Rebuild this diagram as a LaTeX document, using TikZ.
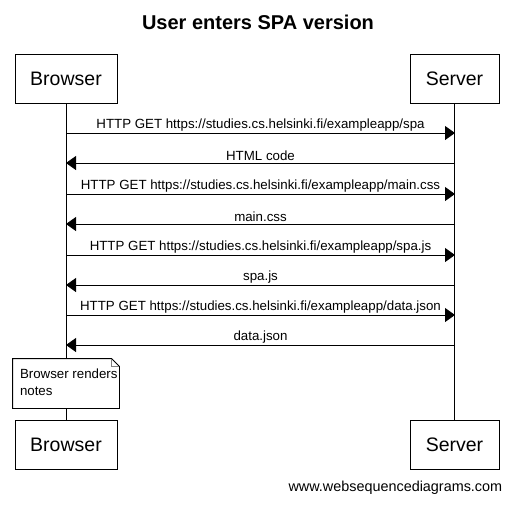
\documentclass[tikz,border=0pt]{standalone}
\usepackage{fontspec}
\setmainfont{Liberation Sans}
\usetikzlibrary{arrows.meta}
\tikzset{
  actor/.style={draw, fill=white, minimum height=49pt, font=\fontsize{19.5}{22}\selectfont, inner sep=0pt},
  msg/.style={-{Triangle[length=10pt,width=14pt]}, line width=0.9pt},
  msgtext/.style={font=\fontsize{13.3}{14}\selectfont, above=0pt, inner sep=1.5pt},
}
\begin{document}
\begin{tikzpicture}[x=1pt, y=-1pt, line width=0.9pt]
        \useasboundingbox (0,0) rectangle (514,504);
        \node[font=\bfseries\fontsize{20}{22}\selectfont] (title) at (258,22) {User enters SPA version};
        % participants
        \node[actor, minimum width=102pt] (btop) at (66,78.5) {Browser};
        \node[actor, minimum width=89pt] (stop) at (454.5,78.5) {Server};
        \node[actor, minimum width=102pt] (bbot) at (66,445) {Browser};
        \node[actor, minimum width=89pt] (sbot) at (454.5,445) {Server};
        % lifelines
        \draw (btop) -- (bbot);
        \draw (stop) -- (sbot);
        % messages
        \foreach \y [count=\i] in {133,163,194,224,255,285,315,345} {
            \coordinate (b\i) at (66,\y);
            \coordinate (s\i) at (455,\y);
        }
        \draw[msg] (b1) -- node[msgtext] {HTTP GET https://studies.cs.helsinki.fi/exampleapp/spa} (s1);
        \draw[msg] (s2) -- node[msgtext] {HTML code} (b2);
        \draw[msg] (b3) -- node[msgtext] {HTTP GET https://studies.cs.helsinki.fi/exampleapp/main.css} (s3);
        \draw[msg] (s4) -- node[msgtext] {main.css} (b4);
        \draw[msg] (b5) -- node[msgtext] {HTTP GET https://studies.cs.helsinki.fi/exampleapp/spa.js} (s5);
        \draw[msg] (s6) -- node[msgtext] {spa.js} (b6);
        \draw[msg] (b7) -- node[msgtext] {HTTP GET https://studies.cs.helsinki.fi/exampleapp/data.json} (s7);
        \draw[msg] (s8) -- node[msgtext] {data.json} (b8);
        % note
        \node[minimum width=106pt, minimum height=49pt, inner sep=0pt] (rend) at (66,383.5) {};
        \filldraw[fill=white] (rend.south west) -- (rend.north west) -- ([xshift=-8pt]rend.north east)
            -- ([yshift=-8pt]rend.north east) -- (rend.south east) -- cycle;
        \draw[gray] ([xshift=-8pt]rend.north east) |- ([yshift=-8pt]rend.north east);
        \node[anchor=west, align=left, font=\fontsize{13.3}{17}\selectfont, inner sep=0pt] (rendtext) at ([xshift=7pt,yshift=1.5pt]rend.west) {Browser renders\\notes};
        \node[anchor=east, font=\fontsize{14.4}{16}\selectfont] (footer) at (506,488) {www.websequencediagrams.com};
\end{tikzpicture}
\end{document}
